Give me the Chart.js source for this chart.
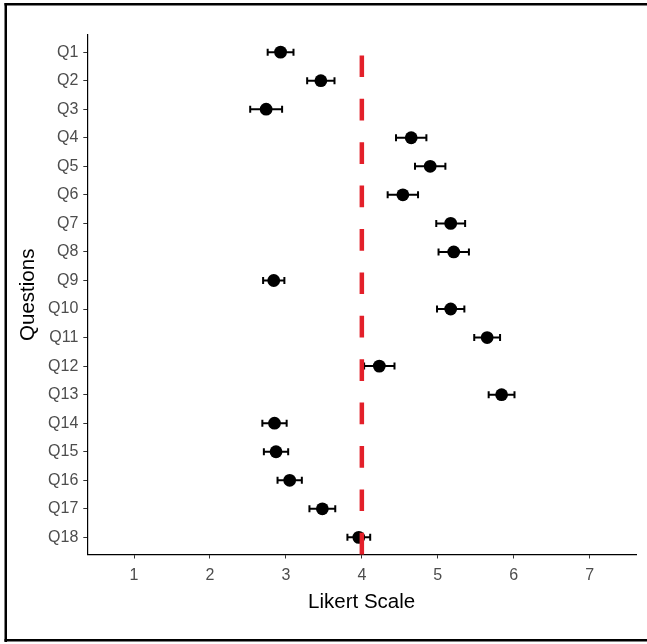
<!DOCTYPE html>
<html>
<head>
<meta charset="utf-8">
<script src="https://cdn.jsdelivr.net/npm/chart.js@4/dist/chart.umd.min.js"></script>
<style>
html,body{margin:0;padding:0;background:#fff;}
#wrap{position:relative;width:647px;height:644px;}
</style>
</head>
<body>
<div id="wrap"><canvas id="c" width="647" height="644"></canvas></div>
<script>
const questions = ["Q1","Q2","Q3","Q4","Q5","Q6","Q7","Q8","Q9","Q10","Q11","Q12","Q13","Q14","Q15","Q16","Q17","Q18"];
const means = [2.93,3.46,2.74,4.65,4.90,4.54,5.17,5.21,2.84,5.17,5.65,4.23,5.84,2.85,2.87,3.05,3.48,3.96];
const errors = [0.17,0.18,0.21,0.20,0.20,0.20,0.19,0.20,0.14,0.18,0.17,0.20,0.17,0.16,0.16,0.16,0.17,0.15];
const xTicks = [1,2,3,4,5,6,7];
const referenceValue = 4;

const FONT = "'Liberation Sans', Arial, sans-serif";

const points = means.map((m, i) => ({x: m, y: i + 1}));

const frame = {
  id: 'frame',
  beforeDraw(chart) {
    const ctx = chart.ctx;
    ctx.save();
    ctx.fillStyle = '#fff';
    ctx.fillRect(0, 0, chart.width, chart.height);
    ctx.restore();
  },
  afterDraw(chart) {
    const ctx = chart.ctx;
    ctx.save();
    ctx.fillStyle = '#000';
    ctx.fillRect(4.5, 3, 2.5, 639);
    ctx.fillRect(4.5, 3, 650, 2.5);
    ctx.fillRect(4.5, 639, 650, 2.5);
    ctx.restore();
  }
};

const errorBars = {
  id: 'errorBars',
  beforeDatasetsDraw(chart) {
    const {ctx, scales: {x, y}} = chart;
    ctx.save();
    ctx.strokeStyle = '#000';
    ctx.lineWidth = 2;
    means.forEach((m, i) => {
      const py = y.getPixelForValue(i + 1);
      const x0 = x.getPixelForValue(m - errors[i]);
      const x1 = x.getPixelForValue(m + errors[i]);
      ctx.beginPath();
      ctx.moveTo(x0, py); ctx.lineTo(x1, py);
      ctx.moveTo(x0, py - 3.5); ctx.lineTo(x0, py + 3.5);
      ctx.moveTo(x1, py - 3.5); ctx.lineTo(x1, py + 3.5);
      ctx.stroke();
    });
    ctx.restore();
  }
};

const refLine = {
  id: 'refLine',
  afterDatasetsDraw(chart) {
    const {ctx, chartArea, scales: {x}} = chart;
    const px = x.getPixelForValue(referenceValue);
    ctx.save();
    ctx.strokeStyle = '#e3202a';
    ctx.lineWidth = 4.5;
    ctx.setLineDash([21.7, 21.7]);
    ctx.beginPath();
    ctx.moveTo(px, chartArea.bottom);
    ctx.lineTo(px, chartArea.top);
    ctx.stroke();
    ctx.restore();
  }
};

new Chart(document.getElementById('c'), {
  type: 'scatter',
  data: {
    datasets: [{
      data: points,
      backgroundColor: '#000',
      borderColor: '#000',
      pointRadius: 6.4,
      pointHoverRadius: 6.4,
      borderWidth: 0
    }]
  },
  options: {
    responsive: false,
    animation: false,
    events: [],
    layout: {padding: {left: 7, top: 35, right: 11, bottom: 0}},
    plugins: {legend: {display: false}, tooltip: {enabled: false}},
    scales: {
      x: {
        type: 'linear',
        min: 0.385,
        max: 7.61,
        afterBuildTicks(scale) { scale.ticks = xTicks.map(v => ({value: v})); },
        afterFit(scale) { scale.height = 89.5; },
        grid: {display: true, drawOnChartArea: false, drawTicks: true, tickLength: 4, color: '#333', lineWidth: 1},
        border: {display: true, color: '#000', width: 1.2},
        ticks: {color: '#4d4d4d', font: {family: FONT, size: 16}, padding: 7, maxRotation: 0,
          callback: v => String(v)},
        title: {display: true, text: 'Likert Scale', color: '#000', font: {family: FONT, size: 20.5}, padding: {top: 0, bottom: 29}}
      },
      y: {
        type: 'linear',
        reverse: true,
        min: 0.4,
        max: 18.6,
        afterBuildTicks(scale) { scale.ticks = questions.map((q, i) => ({value: i + 1})); },
        afterFit(scale) { scale.width = 80.3; },
        grid: {display: true, drawOnChartArea: false, drawTicks: true, tickLength: 4, color: '#333', lineWidth: 1},
        border: {display: true, color: '#000', width: 1.2},
        ticks: {color: '#4d4d4d', font: {family: FONT, size: 16}, padding: 5, autoSkip: false,
          callback: v => questions[Math.round(v) - 1] || ''},
        title: {display: true, text: 'Questions', color: '#000', font: {family: FONT, size: 20.5}, padding: {top: 8.7, bottom: 0}}
      }
    }
  },
  plugins: [frame, errorBars, refLine]
});
</script>
</body>
</html>
